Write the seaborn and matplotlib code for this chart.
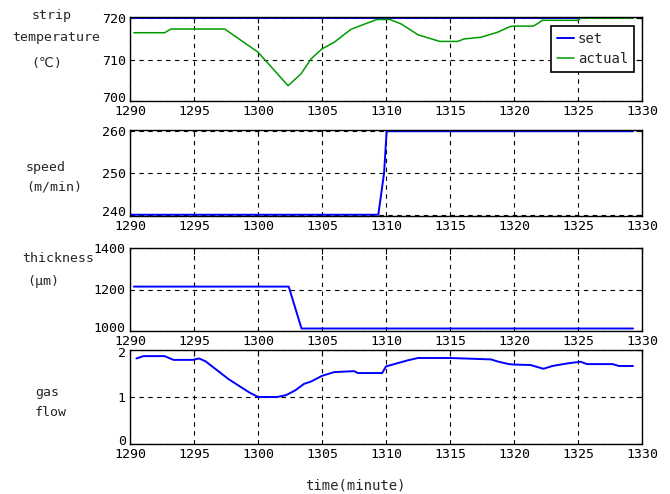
import matplotlib
matplotlib.use("Agg")
import matplotlib.pyplot as plt
import matplotlib.transforms as mtransforms
import seaborn as sns

# ---- data ----
temp_set_t = [1290.0, 1329.3]
temp_set_v = [720.0, 720.0]
temp_act_t = [1290.3, 1292.7, 1293.2, 1297.4, 1300.0, 1302.35, 1303.37, 1304.15, 1305.0,
              1305.96, 1307.25, 1308.0, 1309.3, 1310.3, 1311.2, 1312.5, 1314.2, 1315.6,
              1316.1, 1317.4, 1318.7, 1319.7, 1320.0, 1321.5, 1321.9, 1322.2, 1325.0,
              1325.2, 1329.3]
temp_act_v = [716.5, 716.5, 717.4, 717.4, 711.8, 703.7, 706.6, 710.2, 712.6,
              714.2, 717.3, 718.2, 719.7, 719.7, 718.6, 716.0, 714.4, 714.4,
              715.0, 715.4, 716.6, 718.0, 718.1, 718.1, 718.8, 719.5, 719.5,
              720.0, 720.0]

speed_t = [1290.0, 1309.4, 1309.85, 1310.05, 1329.3]
speed_v = [240.0, 240.0, 250.0, 260.0, 260.0]

thick_t = [1290.3, 1302.4, 1303.4, 1329.3]
thick_v = [1214.0, 1214.0, 1012.0, 1012.0]

gas_t = [1290.5, 1291.05, 1292.7, 1293.4, 1294.9, 1295.4, 1295.9, 1297.7, 1299.3,
         1300.0, 1301.5, 1302.2, 1302.9, 1303.6, 1304.15, 1305.0, 1305.96, 1307.5,
         1307.8, 1309.7, 1310.0, 1310.9, 1311.7, 1312.5, 1315.0, 1318.2, 1318.8,
         1319.6, 1320.0, 1321.3, 1322.3, 1323.0, 1324.3, 1325.2, 1325.7, 1327.7,
         1328.2, 1329.3]
gas_v = [1.82, 1.87, 1.87, 1.79, 1.79, 1.82, 1.76, 1.38, 1.10,
         1.00, 1.00, 1.04, 1.14, 1.28, 1.33, 1.45, 1.53, 1.55,
         1.51, 1.51, 1.65, 1.72, 1.78, 1.83, 1.83, 1.80, 1.75,
         1.70, 1.69, 1.68, 1.60, 1.66, 1.72, 1.75, 1.70, 1.70,
         1.66, 1.66]

x_ticks = [1290, 1295, 1300, 1305, 1310, 1315, 1320, 1325, 1330]
temp_ticks = [700, 710, 720]
speed_ticks = [240, 250, 260]
thick_ticks = [1000, 1200, 1400]
gas_ticks = [0, 1, 2]

# label lines: (text, x_px, y_px, ha)
ylabel_lines = [
    ("strip", 52, 16, "center"),
    ("temperature", 56, 37, "center"),
    ("(℃)", 47, 63, "center"),
    ("speed", 46, 168, "center"),
    ("(m/min)", 54, 187, "center"),
    ("thickness", 58, 258, "center"),
    ("(μm)", 43, 282, "center"),
    ("gas", 35, 392, "left"),
    ("flow", 35, 413, "left"),
]
xlabel = "time(minute)"

BLUE = "#0000FF"
GREEN = "#009A00"

sns.set_style("white")
plt.rcParams["font.family"] = ["DejaVu Sans Mono", "DejaVu Sans"]
plt.rcParams["font.size"] = 9.5

fig = plt.figure(figsize=(6.7, 4.94), dpi=100)
L = 130 / 670
W = 512 / 670
boxes = [(17, 101), (130, 216), (248, 331), (350, 444)]
axes = []
for top, bot in boxes:
    axes.append(fig.add_axes([L, 1 - bot / 494, W, (bot - top) / 494]))

ax1, ax2, ax3, ax4 = axes

sns.lineplot(x=temp_set_t, y=temp_set_v, ax=ax1, color=BLUE, lw=1.4, label="set")
sns.lineplot(x=temp_act_t, y=temp_act_v, ax=ax1, color=GREEN, lw=1.1, label="actual")
sns.lineplot(x=speed_t, y=speed_v, ax=ax2, color=BLUE, lw=1.4)
sns.lineplot(x=thick_t, y=thick_v, ax=ax3, color=BLUE, lw=1.4)
sns.lineplot(x=gas_t, y=gas_v, ax=ax4, color=BLUE, lw=1.4)

ylims = [(700, 720.3), (239.7, 260.3), (1000, 1400), (0, 2)]
yticks = [temp_ticks, speed_ticks, thick_ticks, gas_ticks]
up = mtransforms.ScaledTranslation(0, 4 / 100, fig.dpi_scale_trans)
down = mtransforms.ScaledTranslation(0, -1 / 100, fig.dpi_scale_trans)
down_top = mtransforms.ScaledTranslation(0, -2 / 100, fig.dpi_scale_trans)
for ax, yl, yt in zip(axes, ylims, yticks):
    ax.set_xlim(1290, 1330)
    ax.set_ylim(*yl)
    ax.set_xticks(x_ticks)
    ax.set_yticks(yt)
    ax.set_xticklabels([str(t) for t in x_ticks])
    ax.set_yticklabels([str(t) for t in yt])
    ax.grid(True, color="black", linestyle=(0, (4, 4)), linewidth=0.8)
    ax.tick_params(direction="in", top=True, right=True, length=4, width=0.8,
                   pad=2, labelsize=9.5, colors="black")
    ax.tick_params(axis="y", pad=3)
    for s in ax.spines.values():
        s.set_color("black")
        s.set_linewidth(1.0)
    ax.set_xlabel("")
    ax.set_ylabel("")
    ylabs = ax.get_yticklabels()
    ylabs[0].set_transform(ylabs[0].get_transform() + up)
    for lab in ax.get_xticklabels():
        lab.set_transform(lab.get_transform() + down)

top_lab = ax4.get_yticklabels()[-1]
top_lab.set_transform(top_lab.get_transform() + down_top)

leg = ax1.legend(loc="upper right", bbox_to_anchor=(0.985, 0.893), frameon=True,
                 fancybox=False, edgecolor="black", framealpha=1,
                 handlelength=1.2, handletextpad=0.3, borderpad=0.45,
                 labelspacing=0.4, borderaxespad=0, fontsize=10)
leg.get_frame().set_linewidth(1.2)

for txt, xp, yp, ha in ylabel_lines:
    fig.text(xp / 670, 1 - yp / 494, txt, ha=ha, va="center", fontsize=9.5)

fig.text(355 / 670, 1 - 485 / 494, xlabel, ha="center", va="center", fontsize=10)

fig.savefig("out.png", dpi=100, facecolor="white")
